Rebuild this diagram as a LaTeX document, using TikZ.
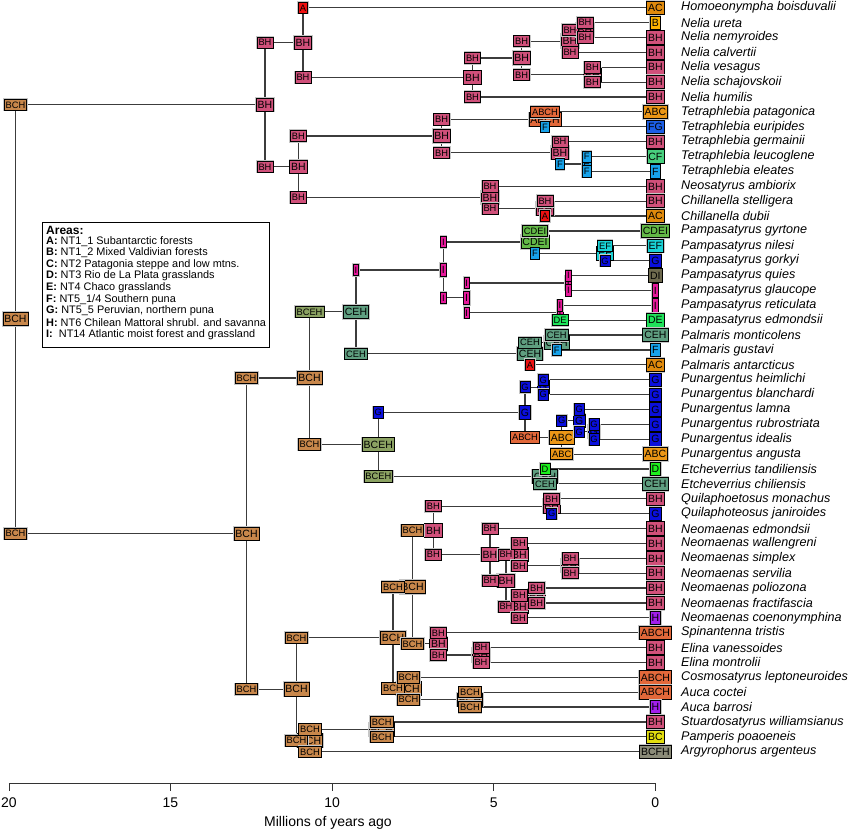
\documentclass[tikz,border=0pt]{standalone}
\usepackage{fontspec}
\setmainfont{Liberation Sans}
\definecolor{cA}{HTML}{EE1111}
\definecolor{cB}{HTML}{FDB200}
\definecolor{cAC}{HTML}{E08A0C}
\definecolor{cABC}{HTML}{EB9616}
\definecolor{cABCH}{HTML}{E2683A}
\definecolor{cBH}{HTML}{D0507A}
\definecolor{cFG}{HTML}{1C5EE6}
\definecolor{cF}{HTML}{17A2EA}
\definecolor{cCF}{HTML}{48D07E}
\definecolor{cCDEI}{HTML}{63B847}
\definecolor{cEF}{HTML}{19D2D6}
\definecolor{cG}{HTML}{0A0FDE}
\definecolor{cDI}{HTML}{6E6A4E}
\definecolor{cI}{HTML}{E6199A}
\definecolor{cDE}{HTML}{1FE35A}
\definecolor{cCEH}{HTML}{5F9E80}
\definecolor{cD}{HTML}{1EF01E}
\definecolor{cBCH}{HTML}{C8874B}
\definecolor{cBCEH}{HTML}{8BA262}
\definecolor{cH}{HTML}{A21EEB}
\definecolor{cBC}{HTML}{E1DC0E}
\definecolor{cBCFH}{HTML}{8B8B78}
\definecolor{brc}{HTML}{3C3C3C}
\tikzset{
  br/.style={draw=brc, line width=1.2pt},
  bx/.style={draw=black, line width=0.7pt, inner sep=0pt, inner xsep=1.5pt,
    minimum height=13.4pt, text height=7.5pt, text depth=0pt, text=black,
    font=\fontsize{10.5}{10.5}\selectfont,
    preaction={draw=gray!45, line width=2pt}},
  cbx/.style={bx, minimum height=11.3pt, text height=6.7pt,
    font=\fontsize{9.3}{9.3}\selectfont},
  lab/.style={anchor=west, inner sep=0pt, font=\fontsize{12.6}{12.6}\selectfont\itshape},
  lgl/.style={anchor=west, inner sep=0pt, font=\fontsize{10.9}{10.9}\selectfont},
  axl/.style={inner sep=0pt, font=\fontsize{14}{14}\selectfont},
}
\begin{document}
\begin{tikzpicture}[x=1pt,y=-1pt]
\path[use as bounding box, fill=white] (0,0) rectangle (849,833);
% internal node positions
\coordinate (pR) at (15.5,319.14);
\coordinate (pA) at (265,104.65);
\coordinate (pB) at (303,42.58);
\coordinate (pC) at (472.5,77.45);
\coordinate (pD) at (521.7,57.92);
\coordinate (pE) at (570,41.18);
\coordinate (pF) at (585,30.02);
\coordinate (pG) at (592.3,74.66);
\coordinate (pH) at (298.3,166.73);
\coordinate (pI) at (441.7,136.04);
\coordinate (pJ) at (545,119.30);
\coordinate (pK) at (560,152.78);
\coordinate (pL) at (586.7,163.94);
\coordinate (pM) at (490,197.42);
\coordinate (pN) at (545,208.58);
\coordinate (pP) at (246.5,533.62);
\coordinate (pQ) at (309.5,378.08);
\coordinate (pS) at (356,311.81);
\coordinate (pT) at (443.3,269.96);
\coordinate (pU) at (535,242.06);
\coordinate (pV) at (605,253.22);
\coordinate (pW) at (466.7,297.86);
\coordinate (pX) at (568.3,282.98);
\coordinate (pY) at (560,312.74);
\coordinate (pZ) at (530,353.66);
\coordinate (pZb) at (556.7,342.50);
\coordinate (pAA) at (378.3,444.34);
\coordinate (pAB) at (525,412.25);
\coordinate (pAC) at (543.3,387.14);
\coordinate (pAD) at (561.7,437.36);
\coordinate (pAE) at (579.3,420.62);
\coordinate (pAF) at (594,431.78);
\coordinate (pAG) at (545,476.42);
\coordinate (pAH) at (296.5,689.16);
\coordinate (pAI) at (393,637.78);
\coordinate (pAJ) at (412.5,587.09);
\coordinate (pAK) at (433.3,530.36);
\coordinate (pAL) at (551.7,506.18);
\coordinate (pAM) at (490,554.54);
\coordinate (pAN) at (506,580.58);
\coordinate (pAO) at (519.3,554.54);
\coordinate (pAP) at (570,565.70);
\coordinate (pAQ) at (519.3,606.62);
\coordinate (pAR) at (536.7,595.46);
\coordinate (pAS) at (438.3,643.82);
\coordinate (pAT) at (481,654.98);
\coordinate (pAU) at (408.5,688.46);
\coordinate (pAV) at (470,699.62);
\coordinate (pAW) at (310,740.54);
\coordinate (pAX) at (381.7,729.38);
% tip positions
\foreach \i in {1,...,51} { \coordinate (p\i) at (655.4,{7.7+(\i-1)*14.88}); }
% branches
\foreach \xch/\xnd in {A/R,P/R, B/A,H/A, 1/B,C/B, D/C,7/C, E/D,G/D, F/E,4/E, 2/F,3/F,
  5/G,6/G, I/H,M/H, J/I,K/I, 8/J,9/J, 10/K,L/K, 11/L,12/L, 13/M,N/M, 14/N,15/N,
  Q/P,AH/P, S/Q,AA/Q, T/S,Z/S, U/T,W/T, 16/U,V/U, 17/V,18/V, X/W,Y/W, 19/X,20/X,
  21/Y,22/Y, Zb/Z,25/Z, 23/Zb,24/Zb, AB/AA,AG/AA, AC/AB,AD/AB, 26/AC,27/AC,
  AE/AD,31/AD, 28/AE,AF/AE, 29/AF,30/AF, 32/AG,33/AG, AI/AH,AW/AH, AJ/AI,AU/AI,
  AK/AJ,AS/AJ, AL/AK,AM/AK, 34/AL,35/AL, 36/AM,AN/AM, AO/AN,AQ/AN, 37/AO,AP/AO,
  38/AP,39/AP, AR/AQ,42/AQ, 40/AR,41/AR, 43/AS,AT/AS, 44/AT,45/AT, 46/AU,AV/AU,
  47/AV,48/AV, AX/AW,51/AW, 49/AX,50/AX}
  { \draw[br] (p\xch) -| (p\xnd); }
% node state boxes
\foreach \xnd/\xst in {R/BCH, A/BH, B/BH, C/BH, D/BH, E/BH, F/BH, G/BH, H/BH, I/BH,
  J/ABCH, K/BH, L/F, M/BH, N/BH, P/BCH, Q/BCH, S/CEH, T/I, U/CDEI, V/EF, W/I, X/I,
  Y/I, Z/CEH, Zb/CEH, AA/BCEH, AB/G, AC/G, AD/ABC, AE/G, AF/G, AG/CEH, AH/BCH,
  AI/BCH, AJ/BCH, AK/BH, AL/BH, AM/BH, AN/BH, AO/BH, AP/BH, AQ/BH, AR/BH, AS/BH,
  AT/BH, AU/BCH, AV/BCH, AW/BCH, AX/BCH}
  { \node[bx, fill=c\xst] (n\xnd) at (p\xnd) {\xst}; }
% split (corner) boxes
\foreach \xnd/\xch/\xst in {R/A/BCH, R/P/BCH, A/B/BH, A/H/BH, B/1/A, B/C/BH,
  C/D/BH, C/7/BH, D/E/BH, D/G/BH, E/F/BH, E/4/BH, F/2/BH, F/3/BH, G/5/BH, G/6/BH,
  H/I/BH, H/M/BH, I/J/BH, I/K/BH, J/8/ABCH, J/9/F, K/10/BH, K/L/F, L/11/F, L/12/F,
  M/13/BH, M/N/BH, N/14/BH, N/15/A, P/Q/BCH, P/AH/BCH, Q/S/BCEH, Q/AA/BCH,
  S/T/I, S/Z/CEH, T/U/I, T/W/I, U/16/CDEI, U/V/F, V/17/EF, V/18/G, W/X/I, W/Y/I,
  X/19/I, X/20/I, Y/21/I, Y/22/DE, Z/Zb/CEH, Z/25/A, Zb/23/CEH, Zb/24/F,
  AA/AB/G, AA/AG/BCEH, AB/AC/G, AB/AD/ABCH, AC/26/G, AC/27/G, AD/AE/G, AD/31/ABC,
  AE/28/G, AE/AF/G, AF/29/G, AF/30/G, AG/32/D, AG/33/CEH, AH/AI/BCH, AH/AW/BCH,
  AI/AJ/BCH, AI/AU/BCH, AJ/AK/BCH, AJ/AS/BCH, AK/AL/BH, AK/AM/BH, AL/34/BH, AL/35/G,
  AM/36/BH, AM/AN/BH, AN/AO/BH, AN/AQ/BH, AO/37/BH, AO/AP/BH, AP/38/BH, AP/39/BH,
  AQ/AR/BH, AQ/42/BH, AR/40/BH, AR/41/BH, AS/43/BH, AS/AT/BH, AT/44/BH, AT/45/BH,
  AU/46/BCH, AU/AV/BCH, AV/47/BCH, AV/48/BCH, AW/AX/BCH, AW/51/BCH, AX/49/BCH,
  AX/50/BCH}
  { \node[cbx, fill=c\xst] (k\xnd-\xch) at (p\xnd |- p\xch) {\xst}; }
% tips
\foreach \i/\xst/\xnm in {1/AC/Homoeonympha boisduvalii, 2/B/Nelia ureta,
  3/BH/Nelia nemyroides, 4/BH/Nelia calvertii, 5/BH/Nelia vesagus,
  6/BH/Nelia schajovskoii, 7/BH/Nelia humilis, 8/ABC/Tetraphlebia patagonica,
  9/FG/Tetraphlebia euripides, 10/BH/Tetraphlebia germainii,
  11/CF/Tetraphlebia leucoglene, 12/F/Tetraphlebia eleates,
  13/BH/Neosatyrus ambiorix, 14/BH/Chillanella stelligera, 15/AC/Chillanella dubii,
  16/CDEI/Pampasatyrus gyrtone, 17/EF/Pampasatyrus nilesi, 18/G/Pampasatyrus gorkyi,
  19/DI/Pampasatyrus quies, 20/I/Pampasatyrus glaucope, 21/I/Pampasatyrus reticulata,
  22/DE/Pampasatyrus edmondsii, 23/CEH/Palmaris monticolens, 24/F/Palmaris gustavi,
  25/AC/Palmaris antarcticus, 26/G/Punargentus heimlichi, 27/G/Punargentus blanchardi,
  28/G/Punargentus lamna, 29/G/Punargentus rubrostriata, 30/G/Punargentus idealis,
  31/ABC/Punargentus angusta, 32/D/Etcheverrius tandiliensis,
  33/CEH/Etcheverrius chiliensis, 34/BH/Quilaphoetosus monachus,
  35/G/Quilaphoteosus janiroides, 36/BH/Neomaenas edmondsii,
  37/BH/Neomaenas wallengreni, 38/BH/Neomaenas simplex, 39/BH/Neomaenas servilia,
  40/BH/Neomaenas poliozona, 41/BH/Neomaenas fractifascia,
  42/H/Neomaenas coenonymphina, 43/ABCH/Spinantenna tristis,
  44/BH/Elina vanessoides, 45/BH/Elina montrolii,
  46/ABCH/Cosmosatyrus leptoneuroides, 47/ABCH/Auca coctei, 48/H/Auca barrosi,
  49/BH/Stuardosatyrus williamsianus, 50/BC/Pamperis poaoeneis,
  51/BCFH/Argyrophorus argenteus}
  { \node[bx, fill=c\xst] (tb\i) at (p\i) {\xst};
    \node[lab] (tl\i) at (681,{7.7+(\i-1)*14.88}) {\xnm}; }
% legend
\node[draw=black, line width=0.8pt, anchor=north west, inner sep=0pt,
  minimum width=227pt, minimum height=125pt] (legend) at (42,222) {};
\node[lgl, font=\fontsize{12}{12}\selectfont\bfseries] (lg0) at (46,230) {Areas:};
\foreach \i/\xl/\xt in {1/A/{NT1\_1 Subantarctic forests}, 2/B/{NT1\_2 Mixed Valdivian forests},
  3/C/{NT2 Patagonia steppe and low mtns.}, 4/D/{NT3 Rio de La Plata grasslands},
  5/E/{NT4 Chaco grasslands}, 6/F/{NT5\_1/4 Southern puna},
  7/G/{NT5\_5 Peruvian, northern puna}, 8/H/{NT6 Chilean Mattoral shrubl. and savanna}}
  { \node[lgl] (lg\i) at (46,{229.5+\i*11.65}) {\textbf{\xl:} \xt}; }
\node[lgl] (lg9) at (46,{229.5+9*11.65}) {\textbf{I:}\hspace{3pt} NT14 Atlantic moist forest and grassland};
% axis
\coordinate (ax0) at (8.9,783);
\coordinate (ax1) at (655.4,783);
\draw[line width=0.8pt, draw=black!80] (ax0) -- (ax1);
\foreach \k/\v in {0/20,1/15,2/10,3/5,4/0} {
  \coordinate (tk\k) at ({8.9+\k*161.6},783);
  \draw[line width=0.8pt, draw=black!80] (tk\k) -- ++(0,7.5);
  \node[axl] (tv\k) at ({8.9+\k*161.6},803) {\v};
}
\node[axl] (axtitle) at (328,823) {Millions of years ago};
\end{tikzpicture}
\end{document}
